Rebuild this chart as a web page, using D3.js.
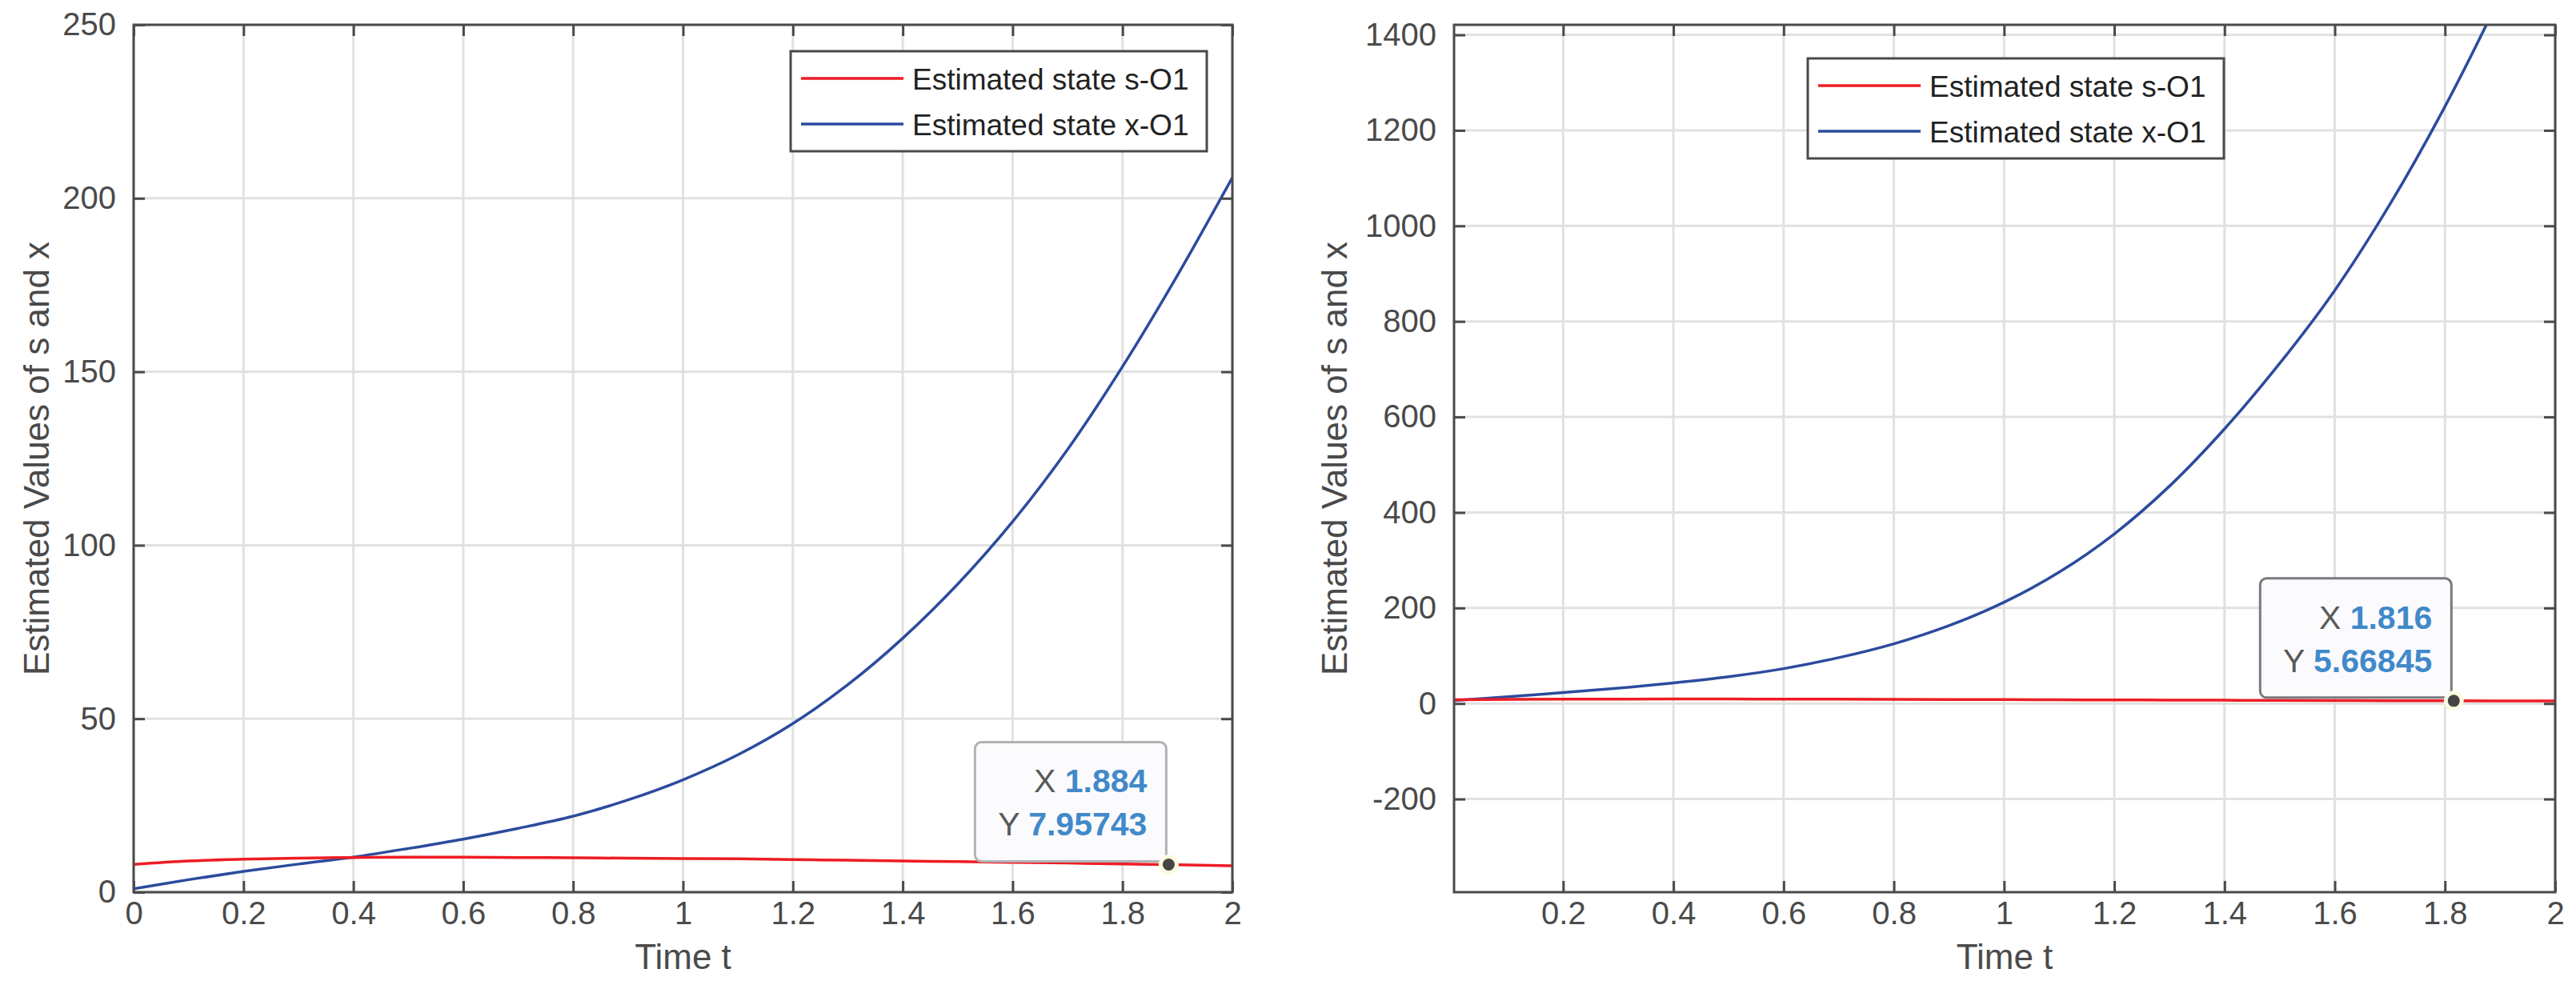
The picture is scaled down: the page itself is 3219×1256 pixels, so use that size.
<!DOCTYPE html>
<html><head><meta charset="utf-8">
<script src="https://cdn.jsdelivr.net/npm/d3@7"></script>
<style>
body{margin:0;background:#fff}
svg{display:block}
text{font-family:"Liberation Sans",Arial,Helvetica,sans-serif}
</style>
</head><body>
<svg id="c" width="3219" height="1256"></svg>
<script>
// ---------- data ----------
const timeL  = [0,0.1,0.2,0.3,0.4,0.5,0.6,0.7,0.8,0.9,1.0,1.1,1.2,1.3,1.4,1.5,1.6,1.7,1.8,1.9,2.0];
const sLeft  = [8,9,9.5,9.8,10,10.1,10.1,10,9.9,9.8,9.7,9.6,9.4,9.2,9,8.8,8.6,8.4,8.15,7.9,7.6];
const xLeft  = [1,3.6,6,8.1,10.1,12.6,15.3,18.4,21.9,26.6,32.4,39.6,48.6,59.8,73.2,88.8,106.8,127.6,151.5,177.8,206];

const timeR  = [0,0.1,0.2,0.3,0.4,0.5,0.6,0.7,0.8,0.9,1.0,1.1,1.2,1.3,1.4,1.5,1.6,1.7,1.8,1.9,2.0];
const sRight = [8,8.6,9,9.3,9.5,9.4,9.3,9.1,8.8,8.5,8.2,7.85,7.5,7.2,6.9,6.6,6.3,6.0,5.72,5.5,5.3];
const xRight = [6,14,23,32,43,56,73,96,125,163,212,275,355,455,575,712,865,1045,1250,1480,1730];

const xTicksL = [0,0.2,0.4,0.6,0.8,1,1.2,1.4,1.6,1.8,2];
const yTicksL = [0,50,100,150,200,250];
const xTicksR = [0.2,0.4,0.6,0.8,1,1.2,1.4,1.6,1.8,2];
const yTicksR = [-200,0,200,400,600,800,1000,1200,1400];

const legendLabels = ["Estimated state s-O1","Estimated state x-O1"];
const xLabel = "Time t";
const yLabel = "Estimated Values of s and x";
const tipLeft  = {x:1.884, y:7.95743, xs:"1.884", ys:"7.95743"};
const tipRight = {x:1.816, y:5.66845, xs:"1.816", ys:"5.66845"};

// ---------- style ----------
const RED = "#ee1c24", BLUE = "#2c4b9e", AX = "#4a4a4a", GRID = "#e1e1e1";
const svg = d3.select("#c");

function panel(cfg){
  const {id,x0,x1,y0,y1,xdom,ydom,xticks,yticks,t,s,xv,legend,tip,tipStroke,ylabX} = cfg;
  const X = d3.scaleLinear().domain(xdom).range([x0,x1]);
  const Y = d3.scaleLinear().domain(ydom).range([y1,y0]);
  const g = svg.append("g");

  g.append("clipPath").attr("id","clip"+id).append("rect")
    .attr("x",x0).attr("y",y0).attr("width",x1-x0).attr("height",y1-y0);

  // grid
  g.selectAll(".gx").data(xticks).enter().append("line")
    .attr("x1",d=>X(d)).attr("x2",d=>X(d)).attr("y1",y0).attr("y2",y1)
    .attr("stroke",GRID).attr("stroke-width",3);
  g.selectAll(".gy").data(yticks).enter().append("line")
    .attr("y1",d=>Y(d)).attr("y2",d=>Y(d)).attr("x1",x0).attr("x2",x1)
    .attr("stroke",GRID).attr("stroke-width",3);

  // lines
  const line = (vals)=>d3.line().x((d,i)=>X(t[i])).y(d=>Y(d)).curve(d3.curveCatmullRom.alpha(0.5))(vals);
  const lg = g.append("g").attr("clip-path","url(#clip"+id+")");
  lg.append("path").attr("d",line(xv)).attr("fill","none").attr("stroke",BLUE).attr("stroke-width",3.5);
  lg.append("path").attr("d",line(s)).attr("fill","none").attr("stroke",RED).attr("stroke-width",3.5);

  // axes (ticks inside, box)
  const fmtX = d=>String(+d.toFixed(1));
  const axB = d3.axisBottom(X).tickValues(xticks).tickSizeInner(-14).tickSizeOuter(0).tickPadding(12).tickFormat(fmtX);
  const axT = d3.axisTop(X).tickValues(xticks).tickSizeInner(-14).tickSizeOuter(0).tickFormat("");
  const axL = d3.axisLeft(Y).tickValues(yticks).tickSizeInner(-14).tickSizeOuter(0).tickPadding(22).tickFormat(d=>String(d));
  const axR = d3.axisRight(Y).tickValues(yticks).tickSizeInner(-14).tickSizeOuter(0).tickFormat("");
  const style = sel=>{
    sel.selectAll("path").remove();
    sel.selectAll("line").attr("stroke",AX).attr("stroke-width",3);
    sel.selectAll("text").attr("fill",AX).attr("font-size",40).style("font-family",'"Liberation Sans",Arial,sans-serif');
  };
  g.append("g").attr("transform",`translate(0,${y1})`).call(axB).call(style);
  g.append("g").attr("transform",`translate(0,${y0})`).call(axT).call(style);
  g.append("g").attr("transform",`translate(${x0},0)`).call(axL).call(style);
  g.append("g").attr("transform",`translate(${x1},0)`).call(axR).call(style);
  g.append("rect").attr("x",x0).attr("y",y0).attr("width",x1-x0).attr("height",y1-y0)
    .attr("fill","none").attr("stroke",AX).attr("stroke-width",3);

  // labels
  g.append("text").attr("x",(x0+x1)/2).attr("y",1211).attr("text-anchor","middle")
    .attr("font-size",44).attr("fill",AX).text(xLabel);
  g.append("text").attr("transform",`translate(${ylabX},${(y0+y1)/2}) rotate(-90)`)
    .attr("text-anchor","middle").attr("font-size",44).attr("fill",AX).text(yLabel);

  // legend
  const lgd = g.append("g").attr("transform",`translate(${legend[0]},${legend[1]})`);
  lgd.append("rect").attr("width",520).attr("height",125).attr("fill","#fff").attr("stroke",AX).attr("stroke-width",3);
  const cols=[RED,BLUE];
  legendLabels.forEach((lab,i)=>{
    const yy = 34 + i*57;
    lgd.append("line").attr("x1",13).attr("x2",141).attr("y1",yy).attr("y2",yy)
      .attr("stroke",cols[i]).attr("stroke-width",3.5);
    lgd.append("text").attr("x",152).attr("y",yy+14).attr("font-size",37).attr("fill","#222").text(lab);
  });

  // data tip
  const dx = X(tip.x), dy = Y(tip.y);
  const bw=239, bh=149, bx=dx-3-bw, by=dy-4-bh;
  g.append("rect").attr("x",bx).attr("y",by).attr("width",bw).attr("height",bh).attr("rx",8)
    .attr("fill","#fbfbfe").attr("stroke",tipStroke).attr("stroke-width",3);
  const t1 = g.append("text").attr("x",bx+bw-24).attr("y",by+63).attr("text-anchor","end").attr("font-size",41);
  t1.append("tspan").attr("fill","#5a5a5a").text("X ");
  t1.append("tspan").attr("fill","#4189c9").attr("font-weight","bold").text(tip.xs);
  const t2 = g.append("text").attr("x",bx+bw-24).attr("y",by+117).attr("text-anchor","end").attr("font-size",41);
  t2.append("tspan").attr("fill","#5a5a5a").text("Y ");
  t2.append("tspan").attr("fill","#4189c9").attr("font-weight","bold").text(tip.ys);
  g.append("circle").attr("cx",dx).attr("cy",dy).attr("r",12.5).attr("fill","#fbfbe2");
  g.append("circle").attr("cx",dx).attr("cy",dy).attr("r",7.5).attr("fill","#454545");
}

panel({id:"L",x0:167,x1:1540,y0:31,y1:1115,xdom:[0,2],ydom:[0,250],xticks:xTicksL,yticks:yTicksL,
  t:timeL,s:sLeft,xv:xLeft,legend:[988,64],tip:tipLeft,tipStroke:"#b2b2b6",ylabX:61});
panel({id:"R",x0:1817,x1:3193,xdom:[0.002,2],y0:31,y1:1115,ydom:[-395,1421],xticks:xTicksR,yticks:yTicksR,
  t:timeR,s:sRight,xv:xRight,legend:[2259,73],tip:tipRight,tipStroke:"#7a7a7e",ylabX:1683});
</script>
</body></html>
